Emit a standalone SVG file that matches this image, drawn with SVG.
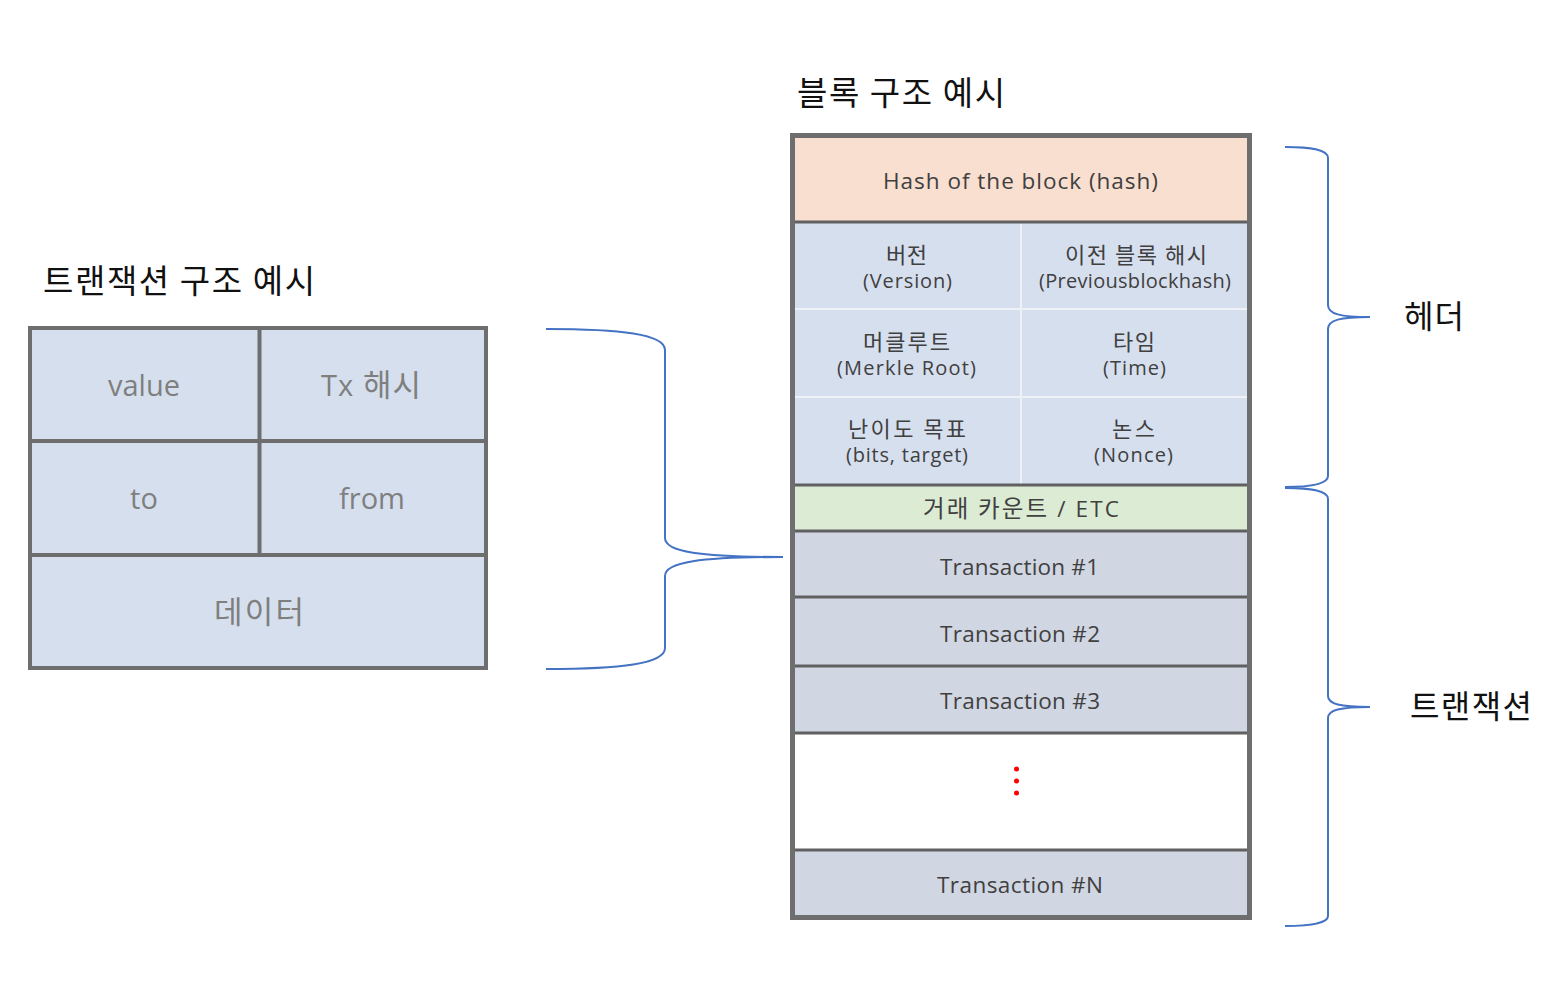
<svg xmlns="http://www.w3.org/2000/svg" width="1566" height="994" viewBox="0 0 1566 994">
<style>
.title{font-family:"Noto Sans CJK KR","Noto Sans",sans-serif;font-size:33px;fill:#111;}
.side{font-family:"Noto Sans CJK KR","Noto Sans",sans-serif;font-size:32px;fill:#111;}
.lt{font-family:"Open Sans","Noto Sans CJK KR",sans-serif;font-size:29px;fill:#7f7f7f;text-anchor:middle;}
.lk{font-size:31px;}
.bt{font-family:"Open Sans","Noto Sans CJK KR",sans-serif;font-size:20px;fill:#404040;text-anchor:middle;}
.bk{font-family:"Noto Sans CJK KR","Open Sans",sans-serif;font-size:22px;fill:#404040;text-anchor:middle;}
.big{font-size:22.5px;}
.cell{fill:#d6dfee;}
.tx{fill:#d0d6e2;}
.sep{stroke:#606060;stroke-width:3;fill:none;}
.lsep{stroke:#eef2f8;stroke-width:2;fill:none;}
.brace{stroke:#4472c4;stroke-width:2;fill:none;}
</style>
<rect width="1566" height="994" fill="#ffffff"/>

<g id="tx-title"><text class="title" x="43" y="293" textLength="272" lengthAdjust="spacing">트랜잭션 구조 예시</text></g>
<g id="block-title"><text class="title" x="797" y="105" textLength="208" lengthAdjust="spacing">블록 구조 예시</text></g>

<g id="tx-table">
  <rect x="30" y="328" width="456" height="340" class="cell"/>
  <g id="tx-value"><text class="lt" x="144" y="396">value</text></g>
  <g id="tx-hash"><text class="lt" x="371" y="396" textLength="100" lengthAdjust="spacing">Tx <tspan class="lk">해시</tspan></text></g>
  <g id="tx-to"><text class="lt" x="144" y="509">to</text></g>
  <g id="tx-from"><text class="lt" x="372" y="509">from</text></g>
  <g id="tx-data"><text class="lt lk" x="259" y="623" textLength="90" lengthAdjust="spacing">데이터</text></g>
  <path d="M30,441 H486 M30,555 H486 M259.5,328 V555" stroke="#6e6e6e" stroke-width="4" fill="none"/>
  <rect x="30" y="328" width="456" height="340" fill="none" stroke="#6e6e6e" stroke-width="4"/>
</g>

<g id="block">
  <g id="hash-row">
    <rect x="792" y="135" width="458" height="87" fill="#f9dfd0"/>
    <text class="bt big" x="1020.5" y="189" textLength="275" lengthAdjust="spacing">Hash of the block (hash)</text>
  </g>
  <g id="header-cells">
    <rect x="792" y="222" width="458" height="263" class="cell"/>
    <g id="version"><text class="bk" x="906.5" y="263" textLength="41" lengthAdjust="spacing">버전</text><text class="bt" x="907.5" y="288" textLength="89" lengthAdjust="spacing">(Version)</text></g>
    <g id="prevhash"><text class="bk" x="1136" y="263" textLength="142" lengthAdjust="spacing">이전 블록 해시</text><text class="bt" x="1135" y="288" textLength="192" lengthAdjust="spacing">(Previousblockhash)</text></g>
    <g id="merkle"><text class="bk" x="906.5" y="350" textLength="87" lengthAdjust="spacing">머클루트</text><text class="bt" x="906.5" y="375" textLength="139" lengthAdjust="spacing">(Merkle Root)</text></g>
    <g id="time"><text class="bk" x="1134" y="350" textLength="42" lengthAdjust="spacing">타임</text><text class="bt" x="1134.5" y="375" textLength="63" lengthAdjust="spacing">(Time)</text></g>
    <g id="bits"><text class="bk" x="907" y="437" textLength="118" lengthAdjust="spacing">난이도 목표</text><text class="bt" x="907" y="462" textLength="122" lengthAdjust="spacing">(bits, target)</text></g>
    <g id="nonce"><text class="bk" x="1133.5" y="437" textLength="43" lengthAdjust="spacing">논스</text><text class="bt" x="1133.5" y="462" textLength="79" lengthAdjust="spacing">(Nonce)</text></g>
    <path class="lsep" d="M794,309 H1248 M794,397 H1248 M1021,224 V484"/>
  </g>
  <g id="count-row">
    <rect x="792" y="485" width="458" height="46" fill="#dcebd3"/>
    <text class="bt big" x="1021" y="517" textLength="196" lengthAdjust="spacing"><tspan style="font-family:'Noto Sans CJK KR',sans-serif;font-size:23.5px">거래 카운트</tspan> / ETC</text>
  </g>
  <g id="tx1"><rect x="792" y="531" width="458" height="66" class="tx"/><text class="bt big" x="1019.5" y="575" textLength="159" lengthAdjust="spacing">Transaction #1</text></g>
  <g id="tx2"><rect x="792" y="597" width="458" height="69" class="tx"/><text class="bt big" x="1020" y="642" textLength="160" lengthAdjust="spacing">Transaction #2</text></g>
  <g id="tx3"><rect x="792" y="666" width="458" height="67" class="tx"/><text class="bt big" x="1020" y="709" textLength="160" lengthAdjust="spacing">Transaction #3</text></g>
  <g id="ellipsis">
    <circle cx="1016.5" cy="769" r="2.5" fill="#ff0000"/>
    <circle cx="1016.5" cy="781" r="2.5" fill="#ff0000"/>
    <circle cx="1016.5" cy="793" r="2.5" fill="#ff0000"/>
  </g>
  <g id="txN"><rect x="792" y="850" width="458" height="68" class="tx"/><text class="bt big" x="1020" y="893" textLength="166" lengthAdjust="spacing">Transaction #N</text></g>
  <path class="sep" d="M792,222 H1250 M792,485 H1250 M792,531 H1250 M792,597 H1250 M792,666 H1250 M792,733 H1250 M792,850 H1250"/>
  <rect x="792.5" y="135.5" width="457" height="782" fill="none" stroke="#6e6e6e" stroke-width="5"/>
</g>

<g id="connectors">
  <path class="brace" d="M546,329 C620,329 665,334 665,350 L665,538 C665,552 700,557 783,557 C700,557 665,562 665,576 L665,648 C665,664 620,669 546,669"/>
  <path class="brace" d="M1285,147 C1310,147 1328,149 1328,158 L1328,305 C1328,314 1340,317 1370,317 C1340,317 1328,320 1328,329 L1328,476 C1328,484 1310,487 1285,487"/>
  <path class="brace" d="M1285,488 C1310,488 1328,490 1328,499 L1328,696 C1328,704 1340,707 1370,707 C1340,707 1328,710 1328,718 L1328,916 C1328,923 1310,926 1285,926"/>
</g>

<g id="header-label"><text class="side" x="1404" y="328" textLength="60" lengthAdjust="spacing">헤더</text></g>
<g id="tx-label"><text class="side" x="1410" y="718" textLength="122" lengthAdjust="spacing">트랜잭션</text></g>
</svg>
